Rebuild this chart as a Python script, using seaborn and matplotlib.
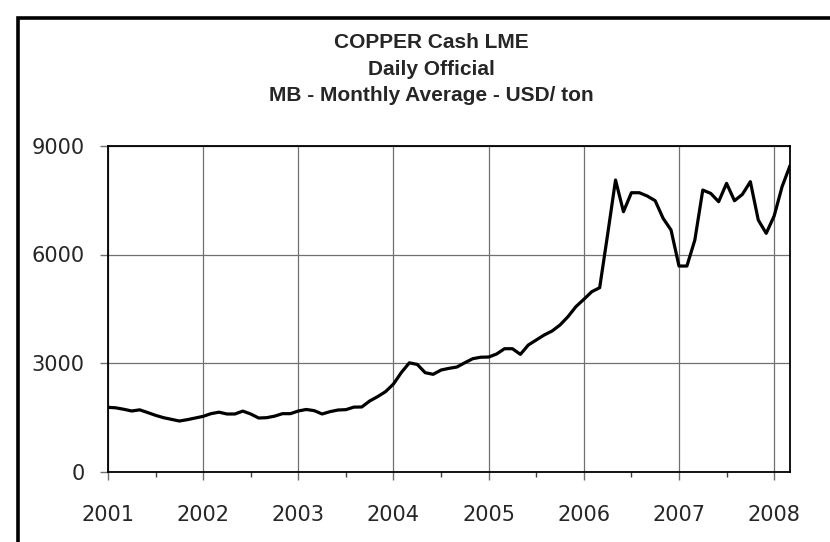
import numpy as np
import pandas as pd
import matplotlib
matplotlib.use('Agg')
import matplotlib.pyplot as plt
import seaborn as sns
from matplotlib.patches import Rectangle

# --- Data: monthly average copper cash price (USD/ton), Jan 2001 - Mar 2008 ---
copper_2001 = [1775, 1760, 1720, 1673, 1705, 1630, 1553, 1488, 1442, 1396, 1433, 1479]
copper_2002 = [1525, 1600, 1640, 1590, 1590, 1670, 1590, 1479, 1488, 1530, 1599, 1599]
copper_2003 = [1673, 1715, 1683, 1590, 1655, 1700, 1710, 1780, 1784, 1950, 2070, 2208]
copper_2004 = [2420, 2740, 3005, 2960, 2732, 2687, 2806, 2852, 2889, 3008, 3119, 3160]
copper_2005 = [3165, 3248, 3395, 3395, 3239, 3497, 3636, 3774, 3885, 4051, 4280, 4557]
copper_2006 = [4760, 4971, 5082, 6550, 8059, 7183, 7708, 7708, 7617, 7487, 7000, 6677]
copper_2007 = [5681, 5681, 6400, 7782, 7690, 7460, 7967, 7487, 7664, 8013, 6953, 6585]
copper_2008 = [7064, 7874, 8455]

year_labels = ['2001', '2002', '2003', '2004', '2005', '2006', '2007', '2008']
y_ticks = [0, 3000, 6000, 9000]

prices = copper_2001 + copper_2002 + copper_2003 + copper_2004 + copper_2005 + copper_2006 + copper_2007 + copper_2008
df = pd.DataFrame({'month': np.arange(len(prices)), 'price': prices})

# --- Style ---
sns.set_theme(style='white')
plt.rcParams['font.family'] = ['DejaVu Sans']

fig = plt.figure(figsize=(8.3, 5.42), dpi=100)
ax = fig.add_axes([108 / 830, 1 - 471.5 / 542, 682 / 830, 325.5 / 542])

sns.lineplot(data=df, x='month', y='price', color='black', linewidth=2.3, ax=ax)

# axis setup
ax.set_xlim(0, len(prices) - 1)
ax.set_ylim(0, 9000)
ax.set_xticks(np.arange(len(year_labels)) * 12)
ax.set_xticklabels(year_labels)
ax.set_xticks(np.arange(len(year_labels) - 1) * 12 + 6, minor=True)
ax.set_yticks(y_ticks)
ax.set_xlabel('')
ax.set_ylabel('')

ax.grid(True, which='major', color='#707070', linewidth=0.9)
ax.tick_params(axis='x', which='major', direction='out', length=6, width=1, color='#707070',
               labelsize=15, pad=18, bottom=True)
ax.tick_params(axis='x', which='minor', direction='out', length=3.6, width=1, color='#404040', bottom=True)
ax.tick_params(axis='y', which='major', direction='out', length=6, width=1, color='#707070',
               labelsize=15, pad=11, left=True)
for side in ax.spines.values():
    side.set_color('black')
    side.set_linewidth(1.3)

# --- Titles ---
title_font = dict(family='Liberation Sans', fontweight='bold', fontsize=15, ha='center', va='center')
fig.text(431 / 830, 1 - 42.5 / 542, 'COPPER Cash LME', **title_font)
fig.text(431 / 830, 1 - 69.5 / 542, 'Daily Official', **title_font)
fig.text(431 / 830, 1 - 95.5 / 542, 'MB - Monthly Average - USD/ ton', **title_font)

# chart frame running off the right and bottom edges
fig.patches.append(Rectangle((18 / 830, -0.2), 1.2, 1.2 - 17.5 / 542, transform=fig.transFigure,
                             fill=False, edgecolor='black', linewidth=2.6, clip_on=False))

fig.savefig('out.png', dpi=100)
